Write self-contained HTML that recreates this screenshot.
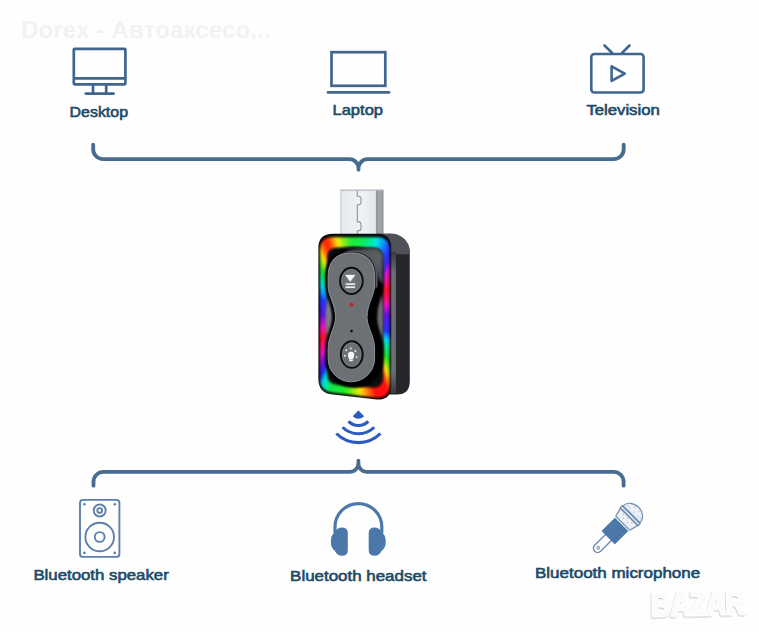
<!DOCTYPE html>
<html><head><meta charset="utf-8">
<style>
html,body{margin:0;padding:0;}
body{width:759px;height:632px;overflow:hidden;background:#fefefe;position:relative;font-family:"Liberation Sans",sans-serif;}
svg{position:absolute;left:0;top:0;}
.abs{position:absolute;}
#ringwrap{left:318px;top:233px;width:75px;height:170px;filter:blur(1px) saturate(1.15) brightness(1.02);}
#ring{left:0;top:0;width:75px;height:170px;
 background:conic-gradient(from 0deg at 36.5px 82px,
 #2fe04a 0deg,#22e070 8deg,#14dcd8 17deg,#2a3cf0 27deg,#3028d8 31deg,#d014c0 38deg,#ff1428 52deg,#d414b4 73deg,#5a14c8 90deg,#2830f0 117deg,#14d2e4 128deg,#28dc34 143deg,#e4e024 150deg,#ff8414 153deg,#ff1818 156deg,#ff1818 165deg,#ece424 176deg,#34e034 187deg,#22dc54 198deg,#14d4d4 205deg,#2222c8 209deg,#6014c4 213deg,#d414b4 220deg,#ff1424 234deg,#d414b4 249deg,#5414c4 270deg,#2434e4 295deg,#14d2e4 312deg,#28d434 324deg,#e4e024 331deg,#ff8414 334deg,#ff2814 338deg,#ff4414 341deg,#ece424 347deg,#30e048 357deg,#2fe04a 360deg);
 clip-path:path('M15.5 4.3 H58.5 Q71.6 4.3 71.6 17 V152.5 Q71.6 164.9 58.5 164.5 L15 159.5 Q2.1 158.3 2.1 145.5 V17 Q2.1 4.3 15.5 4.3 Z');}
</style></head>
<body>
<!-- watermark -->
<div class="abs" style="left:21px;top:15.8px;font-size:24px;font-weight:bold;color:#f2f2f5;white-space:nowrap;letter-spacing:0.15px;">Dorex - Автоаксесо...</div>

<!-- device side piece -->
<svg width="759" height="632" viewBox="0 0 759 632">
  <defs>
    <linearGradient id="usbF" x1="0" x2="1" y1="0" y2="0">
      <stop offset="0" stop-color="#c9ced3"/><stop offset="0.07" stop-color="#e6eaee"/><stop offset="0.6" stop-color="#eef1f5"/><stop offset="1" stop-color="#e4e8ec"/>
    </linearGradient>
    <linearGradient id="usbS" x1="0" x2="1" y1="0" y2="0">
      <stop offset="0" stop-color="#8f9398"/><stop offset="0.5" stop-color="#a4a8ad"/><stop offset="1" stop-color="#8a8e93"/>
    </linearGradient>
    <linearGradient id="strip" x1="0" x2="0" y1="0" y2="1">
      <stop offset="0" stop-color="#3a3c40"/><stop offset="0.15" stop-color="#6b6e73"/><stop offset="0.85" stop-color="#6b6e73"/><stop offset="1" stop-color="#3a3c40"/>
    </linearGradient>
  </defs>
  <!-- USB connector -->
  <rect x="340.2" y="189.8" width="35.8" height="45" fill="url(#usbF)"/>
  <rect x="375.9" y="189.8" width="7.6" height="45" fill="url(#usbS)"/>
  <rect x="340.2" y="189.5" width="43.3" height="1.3" fill="#b9bec3"/>
  <path d="M357.3 190.5 V196 Q361 196 361 198.5 V202.5 Q361 205 357.3 205 V221.6 Q361 221.6 361 224 V228.5 Q361 231 357.3 231 V234" fill="none" stroke="#8d9297" stroke-width="1.1"/>
  <!-- side piece -->
  <path d="M378 233.8 H391.5 A18.3 18.3 0 0 1 409.8 252.1 V381 Q409.8 394.5 397 394.5 H378 Z" fill="#25272b"/>
  <path d="M378 233.8 H391.5 A18.3 18.3 0 0 1 409.8 252.1 V254.2 H378 Z" fill="#505257"/>
  <rect x="390.6" y="252" width="5.3" height="141" fill="url(#strip)"/>
  <!-- front face -->
  <path d="M333 233.8 H377 Q391.2 233.8 391.2 248 V386 Q391.2 400 377 399.6 L333 394.6 Q318.4 393.4 318.4 379 V248 Q318.4 233.8 333 233.8 Z" fill="#0a0a0c"/>
</svg>
<div id="ringwrap" class="abs"><div id="ring" class="abs"></div></div>

<svg width="759" height="632" viewBox="0 0 759 632">
  <defs>
    <clipPath id="upc"><rect x="300" y="230" width="100" height="60"/></clipPath>
    <filter id="bl1" x="-20%" y="-20%" width="140%" height="140%"><feGaussianBlur stdDeviation="0.9"/></filter>
    <filter id="bl2" x="-20%" y="-20%" width="140%" height="140%"><feGaussianBlur stdDeviation="1.3"/></filter>
    <linearGradient id="wallg" x1="0" y1="0" x2="1" y2="0.6">
      <stop offset="0" stop-color="#1a1b1d"/><stop offset="0.45" stop-color="#55585d"/><stop offset="0.8" stop-color="#5c6066"/><stop offset="1" stop-color="#4a4d60"/>
    </linearGradient>
    <filter id="bl3" x="-30%" y="-30%" width="160%" height="160%"><feGaussianBlur stdDeviation="1.8"/></filter>
    <radialGradient id="btn" cx="0.5" cy="0.45" r="0.6">
      <stop offset="0" stop-color="#74777c"/><stop offset="1" stop-color="#64676c"/>
    </radialGradient>
  </defs>
  <!-- recess -->
  <path d="M338 247.6 H372.5 Q383.2 247.6 383.2 258 V377 Q383.2 388 372.5 387.7 L338 385 Q327.2 384.3 327.2 374 V258 Q327.2 247.6 338 247.6 Z" fill="#0a0a0c" filter="url(#bl1)"/>
  
  
  <!-- waist walls -->
  <ellipse cx="329" cy="319" rx="3.6" ry="22" fill="#7a7d82" filter="url(#bl1)"/>
  <ellipse cx="380.2" cy="319" rx="3" ry="25" fill="#6a6d72" filter="url(#bl1)"/>
  <!-- panel shadow -->
  <path d="M351.2 253 C336.4 253 328.1 261.3 328.1 276.1 L328.1 286 C328.1 296 335.5 304 335.5 317.5 C335.5 327 328.1 336 328.1 349 L328.1 358.4 C328.1 371.3 338.3 381.8 351.2 381.8 C364.1 381.8 374.6 371.3 374.6 358.4 L374.6 349 C374.6 336 367 327 367 317.5 C367 304 374.4 296 374.4 286 L374.4 276.1 C374.4 261.3 366 253 351.2 253 Z" transform="translate(3 0)" fill="#050506" stroke="#050506" stroke-width="12" filter="url(#bl1)"/>
  <!-- top-right wall highlight -->
  <path d="M342 248.5 H373 Q383 248.5 383 258 V284 Q378 280 376.5 272 Q372 253.5 350 251 Z" fill="url(#wallg)" filter="url(#bl3)"/>
  <!-- panel side wall -->
  <path d="M351.2 253 C336.4 253 328.1 261.3 328.1 276.1 L328.1 286 C328.1 296 335.5 304 335.5 317.5 C335.5 327 328.1 336 328.1 349 L328.1 358.4 C328.1 371.3 338.3 381.8 351.2 381.8 C364.1 381.8 374.6 371.3 374.6 358.4 L374.6 349 C374.6 336 367 327 367 317.5 C367 304 374.4 296 374.4 286 L374.4 276.1 C374.4 261.3 366 253 351.2 253 Z" transform="translate(3.2 -2.6)" fill="#54575c" clip-path="url(#upc)"/>
  <path d="M351.2 253 C336.4 253 328.1 261.3 328.1 276.1 L328.1 286 C328.1 296 335.5 304 335.5 317.5 C335.5 327 328.1 336 328.1 349 L328.1 358.4 C328.1 371.3 338.3 381.8 351.2 381.8 C364.1 381.8 374.6 371.3 374.6 358.4 L374.6 349 C374.6 336 367 327 367 317.5 C367 304 374.4 296 374.4 286 L374.4 276.1 C374.4 261.3 366 253 351.2 253 Z" fill="none" stroke="#26282b" stroke-width="1.3" transform="translate(0.8 -0.6)" clip-path="url(#upc)"/>
  <!-- panel front -->
  <path d="M351.2 253 C336.4 253 328.1 261.3 328.1 276.1 L328.1 286 C328.1 296 335.5 304 335.5 317.5 C335.5 327 328.1 336 328.1 349 L328.1 358.4 C328.1 371.3 338.3 381.8 351.2 381.8 C364.1 381.8 374.6 371.3 374.6 358.4 L374.6 349 C374.6 336 367 327 367 317.5 C367 304 374.4 296 374.4 286 L374.4 276.1 C374.4 261.3 366 253 351.2 253 Z" fill="#6d7176" stroke="#8d9196" stroke-width="1"/>
  <!-- buttons -->
  <ellipse cx="351.4" cy="280.9" rx="11.3" ry="13.1" fill="url(#btn)" stroke="#0c0d0f" stroke-width="1.9"/>
  <ellipse cx="351.4" cy="280.9" rx="9.6" ry="11.4" fill="none" stroke="#85888d" stroke-width="0.6"/>
  <path d="M345.4 275.1 H355 L350.2 281.6 Z" fill="#f6f6f6" stroke="#f6f6f6" stroke-width="0.4" stroke-linejoin="round"/>
  <rect x="345.5" y="283.3" width="9.6" height="1.7" fill="#ececec"/>
  <rect x="345.5" y="286.3" width="9.6" height="1.8" fill="#ececec"/>
  <circle cx="351.5" cy="304.8" r="2" fill="#b42a2a"/>
  <circle cx="351.6" cy="331.1" r="1.3" fill="#0d0d0d"/>
  <ellipse cx="351.75" cy="354.55" rx="10.9" ry="13.35" fill="url(#btn)" stroke="#0c0d0f" stroke-width="1.9"/>
  <ellipse cx="351.75" cy="354.55" rx="9.2" ry="11.6" fill="none" stroke="#85888d" stroke-width="0.6"/>
  <!-- bulb -->
  <path d="M347.9 355 a3.15 3.15 0 1 1 6.3 0 c0 1.7 -1 2.6 -1.2 4.3 h-3.9 c-0.2 -1.7 -1.2 -2.6 -1.2 -4.3 Z" fill="#f6f6f6"/>
  <path d="M349.1 359.6 h3.9 l-0.4 1.7 h-3.1 Z" fill="#f6f6f6"/>
  <g fill="#eeeeee">
  <circle cx="350.7" cy="348.4" r="0.95"/>
  <circle cx="346.2" cy="350.3" r="0.95"/>
  <circle cx="355.4" cy="351" r="0.95"/>
  <circle cx="344.9" cy="355.8" r="0.95"/>
  <circle cx="356.7" cy="357.1" r="0.95"/>
  </g>
</svg>

<!-- diagram -->
<svg width="759" height="632" viewBox="0 0 759 632">
  <g fill="none" stroke="#476b91" stroke-width="3.8" stroke-linecap="round" stroke-linejoin="round">
    <path d="M93.2 144.6 V149.2 A10 10 0 0 0 103.2 159.2 H349.3 A9.2 9.2 0 0 1 358.5 168.4 V169.7 M358.5 168.4 A9.2 9.2 0 0 1 367.7 159.2 H613.7 A10 10 0 0 0 623.7 149.2 V144.6"/>
    <path d="M93.5 485.7 V481.8 A10 10 0 0 1 103.5 471.8 H350.2 A8.2 8.2 0 0 0 358.4 463.6 V460.6 M358.4 463.6 A8.2 8.2 0 0 0 366.6 471.8 H613.6 A10 10 0 0 1 623.6 481.8 V485.7"/>
  </g>
  <!-- desktop -->
  <g fill="none" stroke="#40668f" stroke-width="2.7">
    <rect x="73.8" y="48.8" width="51.6" height="35.6" rx="0.8"/>
    <line x1="73.8" y1="78.3" x2="125.4" y2="78.3"/>
    <line x1="93" y1="85" x2="93" y2="93"/>
    <line x1="106.2" y1="85" x2="106.2" y2="93"/>
    <line x1="85.8" y1="93.6" x2="113.6" y2="93.6" stroke-linecap="round"/>
  </g>
  <!-- laptop -->
  <g fill="none" stroke="#40668f" stroke-width="2.7">
    <rect x="331.5" y="52.2" width="53.8" height="33.6"/>
    <line x1="328" y1="92.4" x2="389" y2="92.4" stroke-linecap="round"/>
  </g>
  <!-- TV -->
  <g fill="none" stroke="#40668f" stroke-width="2.6" stroke-linecap="round" stroke-linejoin="round">
    <rect x="591.3" y="54" width="52.3" height="38.5" rx="3"/>
    <line x1="604.5" y1="45.5" x2="612.2" y2="53"/>
    <line x1="629.5" y1="45.5" x2="622" y2="53"/>
    <path d="M611.6 66.3 L624.8 73.6 L611.6 80.9 Z"/>
  </g>
  <!-- wifi -->
  <g fill="none" stroke="#2b5bbd" stroke-width="3.1">
    <path d="M358.4 410.8 L353.03 416.17 A7.6 7.6 0 0 0 363.77 416.17 Z" fill="#2b5bbd" stroke="#2b5bbd" stroke-width="0.6" stroke-linejoin="round"/>
    <path d="M348.50 421.40 A14 14 0 0 0 368.30 421.40"/>
    <path d="M342.63 427.27 A22.3 22.3 0 0 0 374.17 427.27"/>
    <path d="M336.41 433.49 A31.1 31.1 0 0 0 380.39 433.49"/>
  </g>
  <!-- speaker -->
  <g fill="none" stroke="#5e7fab" stroke-width="1.9">
    <rect x="80" y="499.9" width="39.4" height="57" rx="3"/>
    <circle cx="99.7" cy="510.5" r="6"/>
    <circle cx="99.7" cy="510.5" r="2.4"/>
    <circle cx="99.7" cy="537" r="14.3"/>
    <circle cx="99.7" cy="537" r="4.9"/>
  </g>
  <g fill="#5e7fab">
    <circle cx="84.4" cy="504.2" r="1.3"/><circle cx="114.8" cy="504.2" r="1.3"/>
    <circle cx="84.4" cy="552.9" r="1.3"/><circle cx="114.8" cy="552.9" r="1.3"/>
  </g>
  <!-- headset -->
  <g fill="#4c77a9">
    <path d="M335 533 V527 A23.4 23.4 0 0 1 381.8 527 V533" fill="none" stroke="#4c77a9" stroke-width="3.2"/>
    <path d="M342 527.5 Q347.8 527.5 347.8 533 V550 Q347.8 555.8 342 555.8 Q337 555.8 335 551 Q330.8 548 330.8 541.5 Q330.8 535 335 532 Q337 527.5 342 527.5 Z"/>
    <path d="M374.5 527.5 Q368.7 527.5 368.7 533 V550 Q368.7 555.8 374.5 555.8 Q379.5 555.8 381.5 551 Q385.8 548 385.8 541.5 Q385.8 535 381.5 532 Q379.5 527.5 374.5 527.5 Z"/>
  </g>
  <!-- microphone -->
  <g transform="translate(614.9 531) rotate(45)">
    <rect x="-4.2" y="6" width="8.4" height="22.6" rx="4.2" fill="#fafbfc" stroke="#6f8db3" stroke-width="1.4"/>
    <circle cx="0" cy="23.6" r="1.3" fill="none" stroke="#6f8db3" stroke-width="1"/>
    <rect x="-9.5" y="-9.5" width="19" height="19" rx="0.8" fill="#4c77a9"/>
    <path d="M-9.8 -11 L-12.2 -19.8 H12.2 L9.8 -11 Z" fill="#edf1f6" stroke="#6f8db3" stroke-width="1.2" stroke-linejoin="round"/>
    <rect x="-12.8" y="-22.8" width="25.6" height="2.4" fill="none" stroke="#6f8db3" stroke-width="1.2"/>
    <path d="M-12 -23.6 A12 10 0 0 1 12 -23.6 Z" fill="#edf1f6" stroke="#6f8db3" stroke-width="1.2"/>
    <g fill="#a9bbd2"><circle cx="-6" cy="-27" r="0.7"/><circle cx="0" cy="-27" r="0.7"/><circle cx="6" cy="-27" r="0.7"/><circle cx="-3" cy="-31" r="0.7"/><circle cx="3" cy="-31" r="0.7"/><circle cx="-3" cy="-15" r="0.7"/><circle cx="3" cy="-15" r="0.7"/><circle cx="-6" cy="-18" r="0.7"/><circle cx="0" cy="-18" r="0.7"/><circle cx="6" cy="-18" r="0.7"/><circle cx="-9" cy="-27" r="0.7"/><circle cx="9" cy="-27" r="0.7"/></g>
  </g>
  <!-- labels -->
  <g font-family="Liberation Sans, sans-serif" fill="#1b4a67" stroke="#1b4a67" stroke-width="0.6" font-size="15">
    <text x="69.6" y="116.5" textLength="58.4" lengthAdjust="spacingAndGlyphs">Desktop</text>
    <text x="332.5" y="114.6" textLength="50.5" lengthAdjust="spacingAndGlyphs">Laptop</text>
    <text x="586.4" y="114.8" textLength="73.4" lengthAdjust="spacingAndGlyphs">Television</text>
    <text x="33.4" y="579.9" textLength="135.4" lengthAdjust="spacingAndGlyphs">Bluetooth speaker</text>
    <text x="290.1" y="581.3" textLength="136.4" lengthAdjust="spacingAndGlyphs">Bluetooth headset</text>
    <text x="535" y="577.5" textLength="165.2" lengthAdjust="spacingAndGlyphs">Bluetooth microphone</text>
  </g>
  <!-- bazar watermark -->
  <defs><filter id="bzs" x="-10%" y="-20%" width="120%" height="140%"><feDropShadow dx="-0.6" dy="1" stdDeviation="0.7" flood-color="#c4c4c4"/></filter></defs>
  <text x="651" y="615.5" font-family="Liberation Sans, sans-serif" font-weight="bold" font-size="33" fill="#fbfbfb" stroke="#ffffff" stroke-width="3" stroke-linejoin="round" paint-order="stroke" textLength="94"  lengthAdjust="spacingAndGlyphs" filter="url(#bzs)" transform="rotate(-1.5 698 604)">BAZAR</text>
</svg>
</body></html>
